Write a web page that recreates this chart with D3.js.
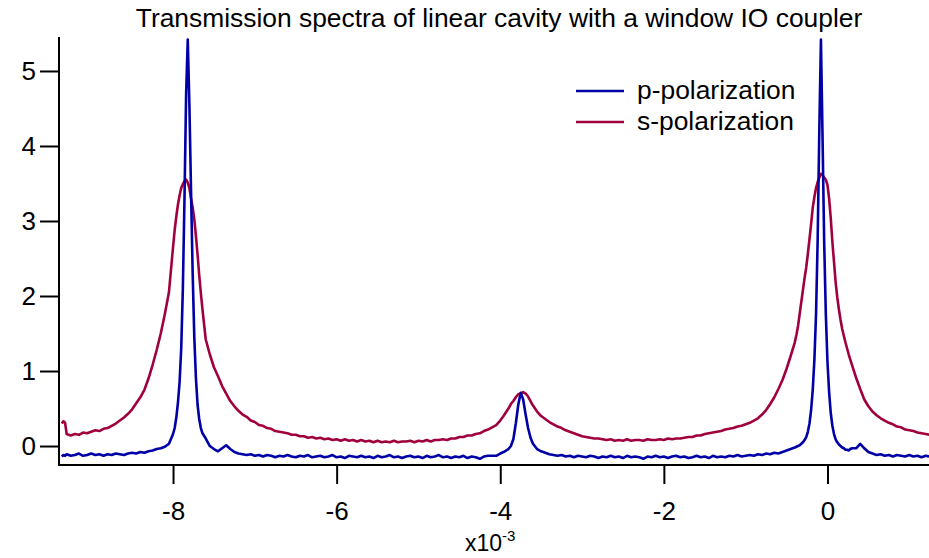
<!DOCTYPE html>
<html><head><meta charset="utf-8">
<script src="https://cdn.jsdelivr.net/npm/d3@7"></script>
<style>
body{margin:0;background:#fff}
svg{display:block}
text{font-family:"Liberation Sans",Arial,sans-serif;fill:#000}
</style>
</head><body>
<svg id="chart" width="929" height="558"></svg>
<script>
// detuning (x10^-3)
const detuning = [
  -9.36,-9.34,-9.32,-9.30,-9.25,-9.20,-9.15,-9.10,-9.05,-9.00,
  -8.95,-8.90,-8.85,-8.80,-8.75,-8.70,-8.65,-8.60,-8.55,-8.50,
  -8.45,-8.40,-8.35,-8.30,-8.25,-8.20,-8.15,-8.10,-8.05,
  -8.00,-7.98,-7.96,-7.94,-7.92,-7.90,-7.88,-7.86,-7.84,-7.82,
  -7.80,-7.78,-7.76,-7.74,-7.72,-7.70,-7.68,-7.66,-7.64,
  -7.60,-7.55,-7.50,-7.45,-7.40,-7.35,-7.30,-7.25,-7.20,-7.15,
  -7.10,-7.05,-7.00,-6.95,-6.90,-6.85,-6.80,-6.75,-6.70,-6.65,
  -6.60,-6.55,-6.50,-6.45,-6.40,-6.35,-6.30,-6.25,-6.20,-6.15,
  -6.10,-6.05,-6.00,-5.95,-5.90,-5.85,-5.80,-5.75,-5.70,-5.65,
  -5.60,-5.55,-5.50,-5.45,-5.40,-5.35,-5.30,-5.25,-5.20,-5.15,
  -5.10,-5.05,-5.00,-4.95,-4.90,-4.85,-4.80,-4.75,-4.70,-4.65,
  -4.60,-4.55,-4.50,-4.45,-4.40,-4.35,-4.30,-4.25,-4.20,-4.15,
  -4.10,
  -4.05,-4.00,-3.96,-3.93,-3.90,-3.87,-3.84,-3.81,-3.78,-3.75,
  -3.72,-3.69,-3.66,-3.63,-3.60,
  -3.55,-3.50,-3.45,-3.40,-3.35,-3.30,-3.25,-3.20,-3.15,-3.10,
  -3.05,-3.00,-2.95,-2.90,-2.85,-2.80,-2.75,-2.70,-2.65,-2.60,
  -2.55,-2.50,-2.45,-2.40,-2.35,-2.30,-2.25,-2.20,-2.15,-2.10,
  -2.05,-2.00,-1.95,-1.90,-1.85,-1.80,-1.75,-1.70,-1.65,-1.60,
  -1.55,-1.50,-1.45,-1.40,-1.35,-1.30,-1.25,-1.20,-1.15,-1.10,
  -1.05,-1.00,-0.95,-0.90,-0.85,-0.80,-0.75,-0.70,-0.65,-0.60,
  -0.55,-0.50,-0.45,
  -0.40,-0.38,-0.36,-0.34,-0.32,-0.30,-0.28,-0.26,-0.24,-0.22,
  -0.20,-0.18,-0.16,-0.14,-0.12,-0.10,-0.08,-0.06,-0.04,-0.02,
  0.00,0.02,0.04,0.06,0.08,0.10,0.12,0.14,0.16,0.18,
  0.20,0.22,0.24,0.26,0.28,0.30,
  0.35,0.40,0.45,0.50,0.55,0.60,0.65,0.70,0.75,0.80,
  0.85,0.90,0.95,1.00,1.05,1.10,1.15,1.20,1.25
];

// p-polarization transmission
const pPolarization = [
  -0.14,-0.12,-0.13,-0.11,-0.13,-0.12,-0.10,-0.13,-0.12,-0.10,
  -0.12,-0.11,-0.13,-0.11,-0.12,-0.10,-0.11,-0.12,-0.10,-0.09,
  -0.10,-0.08,-0.09,-0.07,-0.06,-0.04,-0.03,-0.01,0.03,
  0.16,0.24,0.38,0.58,0.85,1.30,2.10,3.30,4.70,5.42,
  4.55,3.40,2.30,1.45,0.90,0.55,0.36,0.24,0.17,
  0.10,0.00,-0.04,-0.07,-0.03,0.01,-0.04,-0.08,-0.10,-0.11,
  -0.12,-0.11,-0.13,-0.12,-0.14,-0.12,-0.13,-0.15,-0.13,-0.14,
  -0.12,-0.14,-0.15,-0.13,-0.14,-0.12,-0.15,-0.14,-0.13,-0.15,
  -0.14,-0.12,-0.15,-0.14,-0.16,-0.13,-0.14,-0.15,-0.13,-0.15,
  -0.14,-0.16,-0.13,-0.15,-0.14,-0.12,-0.15,-0.14,-0.16,-0.14,
  -0.13,-0.15,-0.14,-0.16,-0.13,-0.15,-0.14,-0.12,-0.15,-0.14,
  -0.16,-0.14,-0.15,-0.13,-0.16,-0.14,-0.15,-0.17,-0.14,-0.13,
  -0.13,
  -0.13,-0.10,-0.08,-0.06,-0.04,0.00,0.09,0.30,0.55,0.71,
  0.62,0.42,0.24,0.11,0.03,
  -0.04,-0.07,-0.09,-0.11,-0.12,-0.13,-0.12,-0.14,-0.13,-0.15,
  -0.13,-0.14,-0.15,-0.13,-0.14,-0.16,-0.14,-0.15,-0.13,-0.15,
  -0.14,-0.16,-0.13,-0.15,-0.14,-0.15,-0.17,-0.14,-0.15,-0.13,
  -0.15,-0.14,-0.16,-0.14,-0.13,-0.15,-0.14,-0.16,-0.15,-0.13,
  -0.15,-0.14,-0.16,-0.13,-0.15,-0.14,-0.15,-0.13,-0.14,-0.12,
  -0.14,-0.13,-0.12,-0.13,-0.11,-0.12,-0.10,-0.11,-0.09,-0.10,
  -0.08,-0.06,-0.04,
  -0.02,-0.01,0.00,0.01,0.03,0.05,0.08,0.12,0.19,0.30,
  0.48,0.75,1.15,1.75,2.75,4.20,5.42,4.10,2.70,1.75,
  1.12,0.72,0.44,0.27,0.16,0.09,0.05,0.02,0.00,-0.02,
  -0.03,-0.05,-0.05,-0.06,-0.04,-0.03,
  -0.03,0.03,-0.03,-0.08,-0.10,-0.12,-0.11,-0.13,-0.12,-0.14,
  -0.12,-0.13,-0.14,-0.12,-0.14,-0.13,-0.15,-0.13,-0.14
];

// s-polarization transmission
const sPolarization = [
  0.30,0.33,0.31,0.16,0.14,0.16,0.15,0.18,0.17,0.19,
  0.21,0.20,0.23,0.24,0.27,0.30,0.34,0.38,0.43,0.49,
  0.57,0.65,0.75,0.90,1.08,1.28,1.50,1.76,2.05,
  2.65,2.88,3.06,3.22,3.34,3.44,3.49,3.53,3.55,3.51,
  3.44,3.30,3.18,3.02,2.80,2.55,2.28,2.04,1.82,
  1.42,1.22,1.05,0.93,0.80,0.70,0.60,0.53,0.47,0.42,
  0.39,0.34,0.32,0.28,0.27,0.24,0.23,0.20,0.19,0.18,
  0.17,0.15,0.15,0.13,0.13,0.11,0.12,0.10,0.11,0.09,
  0.10,0.08,0.09,0.07,0.09,0.07,0.08,0.06,0.08,0.06,
  0.07,0.05,0.07,0.05,0.06,0.05,0.07,0.05,0.06,0.06,
  0.07,0.05,0.07,0.06,0.08,0.06,0.08,0.08,0.09,0.08,
  0.10,0.10,0.12,0.12,0.14,0.14,0.16,0.17,0.20,0.22,
  0.25,
  0.28,0.34,0.40,0.45,0.50,0.56,0.60,0.65,0.69,0.70,
  0.72,0.70,0.66,0.60,0.54,
  0.46,0.40,0.36,0.32,0.29,0.26,0.24,0.21,0.19,0.17,
  0.15,0.13,0.12,0.11,0.10,0.10,0.09,0.08,0.09,0.07,
  0.08,0.07,0.09,0.07,0.08,0.08,0.07,0.09,0.08,0.08,
  0.09,0.08,0.10,0.09,0.10,0.10,0.11,0.12,0.12,0.14,
  0.14,0.16,0.17,0.18,0.19,0.20,0.22,0.23,0.24,0.26,
  0.27,0.29,0.31,0.34,0.37,0.42,0.48,0.56,0.65,0.76,
  0.88,1.03,1.20,
  1.38,1.48,1.60,1.76,1.92,2.08,2.24,2.38,2.56,2.76,
  2.96,3.18,3.32,3.44,3.52,3.58,3.63,3.61,3.58,3.55,
  3.48,3.30,3.04,2.72,2.45,2.18,1.98,1.82,1.68,1.56,
  1.47,1.38,1.30,1.22,1.15,1.08,
  0.91,0.76,0.62,0.53,0.46,0.41,0.37,0.34,0.31,0.29,
  0.26,0.25,0.22,0.21,0.20,0.18,0.17,0.16,0.15
];

const xTickValues = [-8, -6, -4, -2, 0];
const yTickValues = [0, 1, 2, 3, 4, 5];
const seriesNames = ["p-polarization", "s-polarization"];
const seriesColors = ["#0000a6", "#a0003e"];
const chartTitle = "Transmission spectra of linear cavity with a window IO coupler";
const xUnitBase = "x10";
const xUnitExp = "-3";

const svg = d3.select("#chart");
const x = d3.scaleLinear().domain([-9.394, 1.241]).range([59, 929]);
const y = d3.scaleLinear().domain([-0.253, 5.453]).range([465, 37]);

svg.append("defs").append("clipPath").attr("id", "clip")
  .append("rect").attr("x", 60).attr("y", 0).attr("width", 869).attr("height", 465);

const line = d3.line().x(d => x(d[0])).y(d => y(d[1]));
const sData = d3.zip(detuning, sPolarization);
const pData = d3.zip(detuning, pPolarization);

const plot = svg.append("g").attr("clip-path", "url(#clip)");
plot.append("path").datum(sData).attr("d", line)
  .attr("fill", "none").attr("stroke", seriesColors[1]).attr("stroke-width", 2.6)
  .attr("stroke-linejoin", "round");
plot.append("path").datum(pData).attr("d", line)
  .attr("fill", "none").attr("stroke", seriesColors[0]).attr("stroke-width", 2.6)
  .attr("stroke-linejoin", "round");

// axes
const yAxis = d3.axisLeft(y).tickValues(yTickValues).tickSize(19).tickSizeOuter(0)
  .tickPadding(4).tickFormat(d => String(d));
const gy = svg.append("g").attr("transform", "translate(59,0)").call(yAxis);
const xAxis = d3.axisBottom(x).tickValues(xTickValues).tickSize(19).tickSizeOuter(0)
  .tickPadding(18).tickFormat(d => String(d));
const gx = svg.append("g").attr("transform", "translate(0,465)").call(xAxis);
[gx, gy].forEach(g => {
  g.select(".domain").attr("stroke", "#000").attr("stroke-width", 2);
  g.selectAll(".tick line").attr("stroke", "#000").attr("stroke-width", 2);
  g.selectAll("text").attr("font-size", 26).attr("font-family", "Liberation Sans, Arial, sans-serif").attr("fill", "#000");
});
gy.select(".domain").attr("d", `M0,${y.range()[1]}V${y.range()[0] + 1}`);
gx.select(".domain").attr("d", `M${x.range()[0] - 1},0H${x.range()[1]}`);

// x unit label
const unit = svg.append("text").attr("x", 465).attr("y", 551).attr("font-size", 23);
unit.append("tspan").text(xUnitBase);
unit.append("tspan").attr("font-size", 15).attr("dy", -10).text(xUnitExp);

// title
svg.append("text").attr("x", 499).attr("y", 27).attr("text-anchor", "middle")
  .attr("font-size", 26.4).text(chartTitle);

// legend
const legend = svg.append("g");
seriesNames.forEach((name, i) => {
  const ly = 91 + i * 31;
  legend.append("line").attr("x1", 576).attr("x2", 624).attr("y1", ly).attr("y2", ly)
    .attr("stroke", seriesColors[i]).attr("stroke-width", 2.4);
  legend.append("text").attr("x", 637).attr("y", ly + 8).attr("font-size", 26.4).text(name);
});
</script>
</body></html>
